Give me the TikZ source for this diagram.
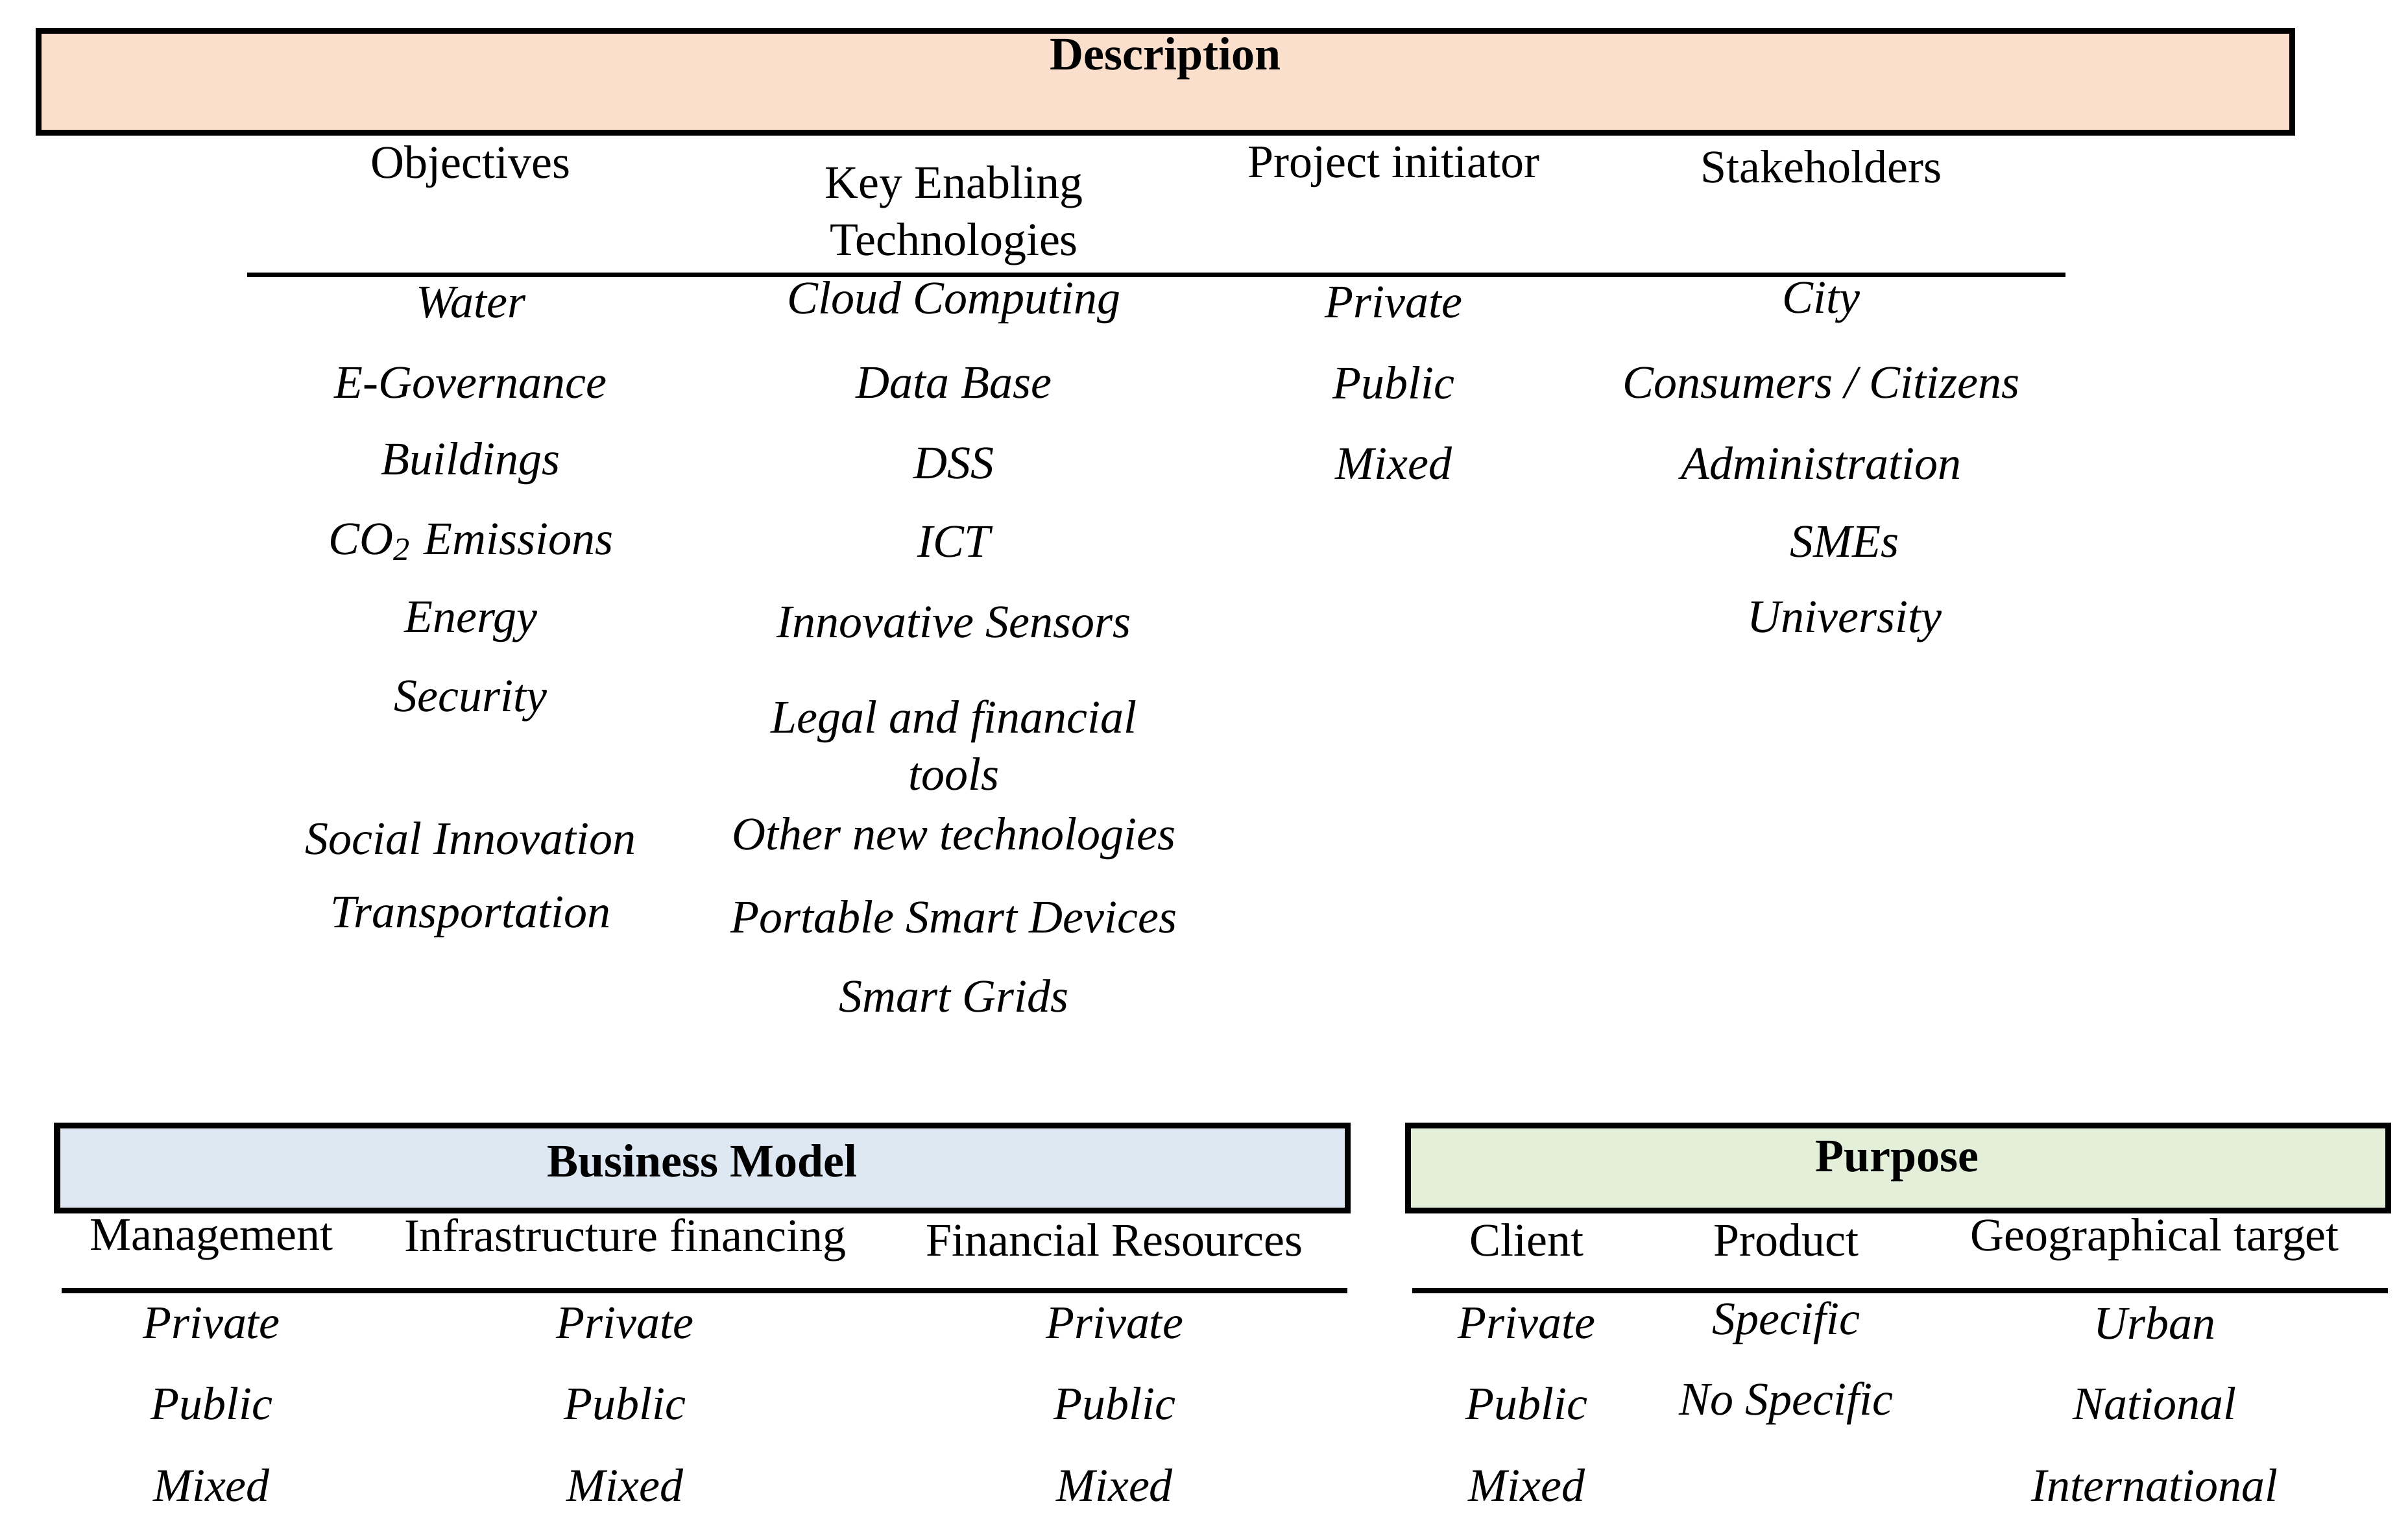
\documentclass[tikz,border=0pt]{standalone}
\usepackage{fontspec}
\setmainfont{Liberation Serif}
\definecolor{peach}{HTML}{FBDFCD}
\definecolor{lblue}{HTML}{DEE8F3}
\definecolor{lgreen}{HTML}{E3EFD9}
\begin{document}
\begin{tikzpicture}[x=0.01cm,y=-0.01cm,
  hd/.style={font=\fontsize{8.6}{10.5}\selectfont,align=center,anchor=center},
  it/.style={font=\fontsize{8.6}{10.5}\selectfont\itshape,align=center,anchor=center},
  tt/.style={font=\fontsize{8.6}{10.5}\selectfont\bfseries,anchor=center},
  bx/.style={draw,line width=1.1pt}]
\useasboundingbox (0,0) rectangle (1560,986);
\draw[bx,fill=peach] (25,20) rectangle (1485,86);
\node[tt] (d) at (755,38) {Description};
\node[hd] (h1) at (305,108) {Objectives};
\node[hd,anchor=north] (h2) at (618,95) {Key Enabling\\Technologies};
\node[hd] (h3) at (903,108) {Project initiator};
\node[hd] (h4) at (1180,108) {Stakeholders};
\draw[line width=0.9pt] (160,178) -- (1338,178);
\foreach \t/\y [count=\i] in {Water/196,E-Governance/248,Buildings/300,{CO\textsubscript{2} Emissions}/351,Energy/403,Security/454,Social Innovation/543,Transportation/594}
  \node[it] (o\i) at (305,\y) {\t};
\foreach \t/\y [count=\i] in {Cloud Computing/196,Data Base/248,DSS/300,ICT/351,Innovative Sensors/403,Other new technologies/543,Portable Smart Devices/594,Smart Grids/645}
  \node[it] (k\i) at (618,\y) {\t};
\node[it,anchor=north] (kl) at (618,441) {Legal and financial\\tools};
\foreach \t/\y [count=\i] in {Private/196,Public/248,Mixed/300}
  \node[it] (p\i) at (903,\y) {\t};
\foreach \t/\x/\y [count=\i] in {City/1180/196,{Consumers / Citizens}/1180/248,Administration/1180/300,SMEs/1195/351,University/1195/403}
  \node[it] (s\i) at (\x,\y) {\t};
% Business model
\draw[bx,fill=lblue] (37,729) rectangle (873,784);
\node[tt] (bm) at (455,752) {Business Model};
\node[hd] (b1) at (137,803) {Management};
\node[hd] (b2) at (405,803) {Infrastructure financing};
\node[hd] (b3) at (722,803) {Financial Resources};
\draw[line width=0.9pt] (40,836) -- (873,836);
\foreach \x/\n in {137/a,405/b,722/c}{
  \node[it] (bm\n1) at (\x,857) {Private};
  \node[it] (bm\n2) at (\x,909) {Public};
  \node[it] (bm\n3) at (\x,962) {Mixed};
}
% Purpose
\draw[bx,fill=lgreen] (912,729) rectangle (1547,784);
\node[tt] (pu) at (1229,752) {Purpose};
\node[hd] (c1) at (989,803) {Client};
\node[hd] (c2) at (1157,803) {Product};
\node[hd] (c3) at (1396,803) {Geographical target};
\draw[line width=0.9pt] (915,836) -- (1547,836);
\node[it] (q1) at (989,857) {Private};
\node[it] (q2) at (989,909) {Public};
\node[it] (q3) at (989,962) {Mixed};
\node[it] (r1) at (1157,857) {Specific};
\node[it] (r2) at (1157,909) {No Specific};
\node[it] (g1) at (1396,857) {Urban};
\node[it] (g2) at (1396,909) {National};
\node[it] (g3) at (1396,962) {International};
\end{tikzpicture}
\end{document}
